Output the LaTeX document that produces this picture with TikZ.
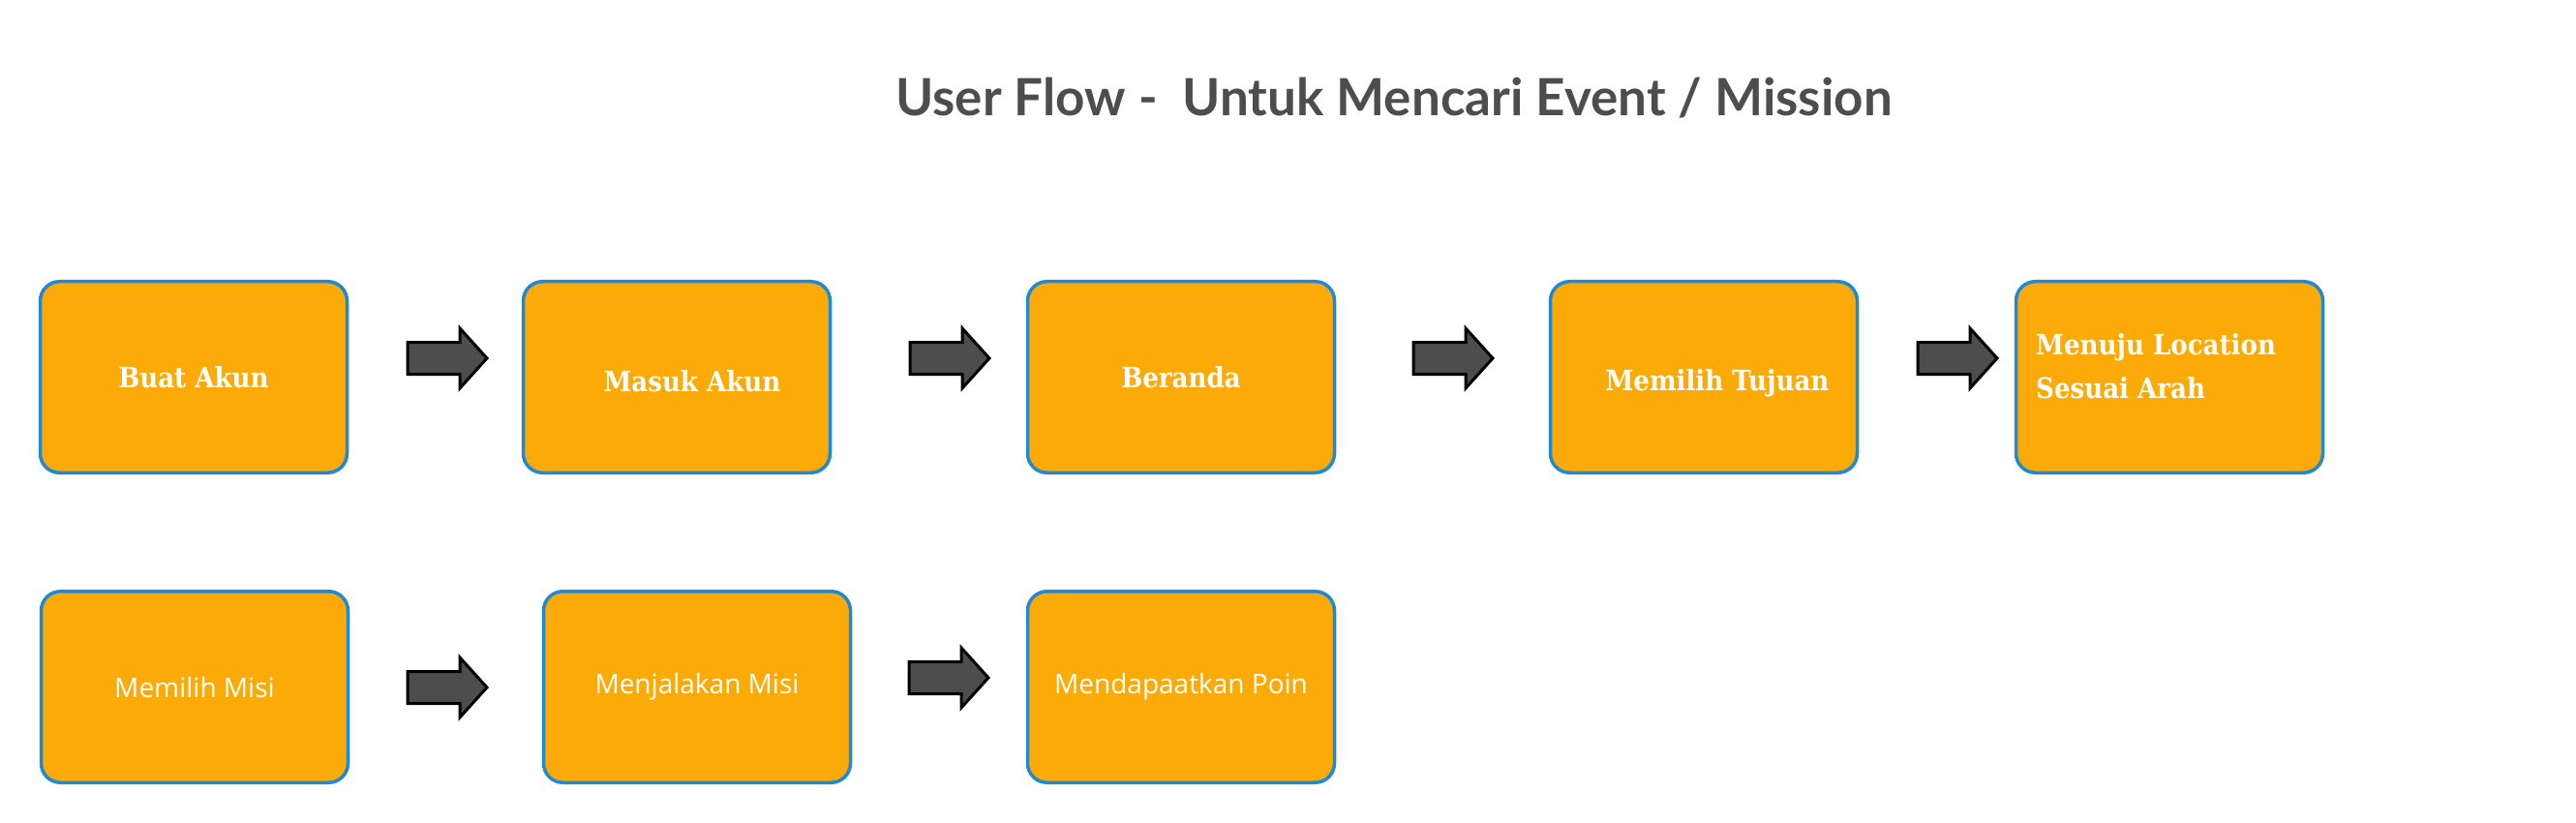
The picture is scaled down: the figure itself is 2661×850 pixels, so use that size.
\documentclass[tikz,border=0pt]{standalone}
\usepackage{fontspec}
\newfontfamily\titlefont{Lato}
\newfontfamily\slabfont{DejaVu Serif Condensed}
\newfontfamily\osfont{Open Sans}
\definecolor{boxfill}{HTML}{FCAA08}
\definecolor{boxedge}{HTML}{1E8AD6}
\definecolor{arrfill}{HTML}{4D4D4D}
\definecolor{titlegray}{HTML}{4D4D4D}
\begin{document}
\begin{tikzpicture}[x=1pt,y=-1pt,
  stepbox/.style={draw=boxedge, line width=3.5pt, fill=boxfill, rounded corners=20pt,
    minimum width=317pt, minimum height=197.5pt, inner sep=0pt, text=white, align=center},
  slab/.style={font=\slabfont\bfseries\fontsize{29}{45}\selectfont, text=white},
  plain/.style={font=\osfont\fontsize{28}{34}\selectfont, text=white},
  blockarrow/.pic={\draw[fill=arrfill, draw=black, line width=3pt, line join=miter]
     (-41,-16.5) -- (13,-16.5) -- (13,-31) -- (41,0) -- (13,31) -- (13,16.5) -- (-41,16.5) -- cycle;}
]
\useasboundingbox (0,0) rectangle (2661,850);
\node[font=\titlefont\bfseries\fontsize{53}{64}\selectfont, text=titlegray, anchor=base] (title) at (1440,120) {User Flow -\ \ Untuk Mencari Event / Mission};

% row 1
\node[stepbox, slab] (b1) at (200,389.5) {Buat Akun};
\node[stepbox] (b2) at (699,389.5) {};
\node[slab] (t2) at (715,394) {Masuk Akun};
\node[stepbox, slab] (b3) at (1220,389.5) {Beranda};
\node[stepbox] (b4) at (1760,389.5) {};
\node[slab] (t4) at (1774,396) {Memilih Tujuan};
\node[stepbox] (b5) at (2241,389.5) {};
\node[slab, align=left, anchor=west, inner sep=0pt] (t5) at (2103,378) {Menuju Location\\Sesuai Arah};

% row 2
\node[stepbox, plain] (b6) at (201,709.5) {Memilih Misi};
\node[stepbox, plain] (b7) at (720,709.5) {Menjalakan Misi};
\node[stepbox, plain] (b8) at (1220,709.5) {Mendapaatkan Poin};

% block arrows
\pic at (462,370) {blockarrow};
\pic at (981,370) {blockarrow};
\pic at (1501,370) {blockarrow};
\pic at (2022,370) {blockarrow};
\pic at (462,710) {blockarrow};
\pic at (980,700) {blockarrow};
\end{tikzpicture}
\end{document}
